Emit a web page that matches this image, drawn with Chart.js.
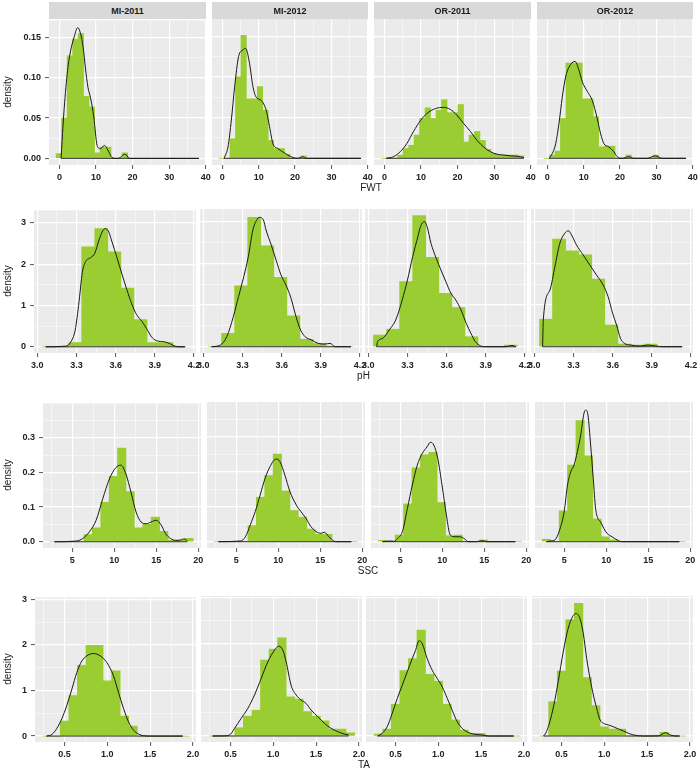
<!DOCTYPE html>
<html>
<head>
<meta charset="utf-8">
<script src="https://cdn.jsdelivr.net/npm/chart.js@4.4.0/dist/chart.umd.min.js"></script>
<style>
  html, body { margin: 0; padding: 0; background: #ffffff; }
  body { position: relative; width: 700px; height: 776px; overflow: hidden; font-family: "Liberation Sans", Arial, sans-serif; }
  canvas { position: absolute; z-index: 1; }
  .strip { position: absolute; z-index: 2; background: #D9D9D9; color: #1a1a1a; font-weight: bold; font-size: 9px; text-align: center; }
  .xtitle { position: absolute; z-index: 2; font-size: 10px; color: #222; transform: translate(-50%, -50%); white-space: nowrap; }
  .ytitle { position: absolute; z-index: 2; font-size: 10px; color: #222; transform: translate(-50%, -50%) rotate(-90deg); white-space: nowrap; }
</style>
</head>
<body>
<script>
// ---------------- DATA ----------------
const facets = ["MI-2011", "MI-2012", "OR-2011", "OR-2012"];
const variables = ["FWT", "pH", "SSC", "TA"];
const yTitle = "density";

// FWT
const fwtXLim = [-2.85, 40.05];
const fwtYLim = [-0.0082, 0.171];
const fwtXTicks = [0, 10, 20, 30, 40];
const fwtXTickLabels = ["0", "10", "20", "30", "40"];
const fwtXMinor = [5, 15, 25, 35];
const fwtYTicks = [0, 0.05, 0.10, 0.15];
const fwtYTickLabels = ["0.00", "0.05", "0.10", "0.15"];
const fwtYMinor = [0.025, 0.075, 0.125];
const fwtBins = [-0.15, 1.35, 2.85, 4.35, 5.85, 7.35, 8.85, 10.35, 11.85, 13.35, 14.85, 16.35, 17.85, 19.35, 20.85, 22.35, 23.85, 25.35, 26.85, 28.35, 29.85, 31.35, 32.85, 34.35, 35.85, 37.35];
const fwtHistMI2011 = [0.006, 0.05, 0.127, 0.148, 0.155, 0.077, 0.064, 0.007, 0.014, 0.014, 0, 0, 0.007, 0, 0, 0, 0, 0, 0, 0, 0, 0, 0, 0, 0, 0];
const fwtHistMI2012 = [0, 0, 0.024, 0.10, 0.151, 0.073, 0.073, 0.088, 0.059, 0.022, 0.012, 0.012, 0.005, 0, 0, 0.003, 0, 0, 0, 0, 0, 0, 0, 0, 0, 0];
const fwtHistOR2011 = [0, 0, 0, 0.004, 0.012, 0.016, 0.0285, 0.049, 0.062, 0.049, 0.059, 0.072, 0.056, 0.056, 0.066, 0.020, 0.0285, 0.033, 0.022, 0.011, 0.006, 0.004, 0.004, 0.004, 0.004, 0.003];
const fwtHistOR2012 = [0, 0.004, 0.009, 0.049, 0.117, 0.117, 0.117, 0.073, 0.073, 0.051, 0.014, 0.015, 0.015, 0, 0, 0.004, 0, 0, 0, 0, 0.004, 0, 0, 0, 0, 0];
const fwtDensRange = [0.46, 38.1];
const fwtDensMI2011 = [[0.46,0],[0.73,0.022],[1.19,0.055],[2.1,0.104],[3.0,0.132],[3.93,0.149],[5.0,0.162],[5.75,0.155],[6.5,0.137],[7.1,0.112],[7.8,0.088],[8.5,0.075],[9.4,0.051],[10.3,0.016],[11.2,0.012],[12.3,0.016],[13.5,0.008],[14.4,0.001],[15.8,0],[16.9,0.002],[17.6,0.005],[18.4,0.004],[19.0,0],[38.1,0]];
const fwtDensMI2012 = [[0.46,0],[1.55,0.014],[2.47,0.047],[3.38,0.088],[4.47,0.125],[5.66,0.133],[6.39,0.135],[7.49,0.116],[8.4,0.088],[9.3,0.075],[10.7,0.071],[12.05,0.059],[12.97,0.039],[13.9,0.018],[15.25,0.012],[16.6,0.008],[18.0,0.004],[19.4,0.001],[20.7,0],[22.1,0.002],[23.0,0],[38.1,0]];
const fwtDensOR2011 = [[0.46,0],[2.47,0.002],[4.3,0.008],[6.1,0.018],[7.95,0.033],[9.8,0.046],[11.6,0.055],[13.9,0.061],[16.2,0.0625],[18.0,0.060],[19.8,0.053],[21.6,0.043],[23.5,0.033],[25.3,0.022],[27.1,0.014],[29.0,0.008],[30.8,0.005],[32.6,0.004],[34.4,0.003],[36.3,0.0025],[38.1,0.001]];
const fwtDensOR2012 = [[0.46,0],[1.37,0.006],[2.29,0.018],[3.2,0.043],[4.1,0.075],[5.03,0.1],[5.95,0.112],[7.6,0.119],[8.7,0.108],[9.6,0.094],[11.0,0.082],[12.35,0.071],[13.7,0.049],[14.6,0.031],[15.55,0.018],[16.9,0.014],[18.3,0.008],[19.2,0.002],[20.6,0],[22.4,0.002],[23.8,0],[27.4,0],[29.7,0.003],[31.6,0],[38.1,0]];

// pH
const phXLim = [2.975, 4.215];
const phYLim = [-0.15, 3.30];
const phXTicks = [3.0, 3.3, 3.6, 3.9, 4.2];
const phXTickLabels = ["3.0", "3.3", "3.6", "3.9", "4.2"];
const phXMinor = [3.15, 3.45, 3.75, 4.05];
const phYTicks = [0, 1, 2, 3];
const phYTickLabels = ["0", "1", "2", "3"];
const phYMinor = [0.5, 1.5, 2.5];
const phBins = [3.09, 3.19, 3.29, 3.39, 3.49, 3.59, 3.69, 3.79, 3.89, 3.99, 4.09];
const phHistMI2011 = [0, 0, 0.104, 2.42, 2.86, 2.30, 1.42, 0.66, 0.104, 0.104, 0];
const phHistMI2012 = [0, 0.32, 1.46, 3.10, 2.42, 1.66, 0.74, 0.18, 0.08, 0, 0];
const phHistOR2011 = [0.28, 0.42, 1.56, 3.14, 2.14, 1.28, 0.94, 0.24, 0, 0, 0.04];
const phHistOR2012 = [0.66, 2.58, 2.30, 2.2, 1.62, 0.52, 0.064, 0.04, 0.064, 0, 0];
const phDensRange = [3.064, 4.13];
const phDensMI2011 = [[3.064,0],[3.219,0.016],[3.257,0.12],[3.29,0.40],[3.32,1.1],[3.345,1.8],[3.37,2.06],[3.41,2.16],[3.44,2.26],[3.47,2.56],[3.50,2.80],[3.52,2.86],[3.547,2.78],[3.57,2.56],[3.61,2.16],[3.648,1.76],[3.686,1.38],[3.723,1.04],[3.76,0.78],[3.80,0.62],[3.837,0.44],[3.875,0.24],[3.91,0.15],[3.975,0.12],[4.013,0.08],[4.05,0.02],[4.09,0],[4.13,0]];
const phDensMI2012 = [[3.064,0],[3.13,0.04],[3.18,0.24],[3.23,0.72],[3.27,1.2],[3.31,1.68],[3.345,2.16],[3.38,2.8],[3.41,3.04],[3.43,3.10],[3.46,3.04],[3.48,2.8],[3.52,2.44],[3.56,2.05],[3.595,1.72],[3.63,1.5],[3.67,1.18],[3.71,0.72],[3.745,0.4],[3.78,0.24],[3.83,0.16],[3.88,0.08],[3.93,0.064],[3.97,0.08],[4.01,0],[4.13,0]];
const phDensOR2011 = [[3.064,0],[3.071,0.12],[3.11,0.2],[3.16,0.4],[3.21,0.64],[3.26,1.12],[3.30,1.6],[3.34,2.16],[3.38,2.64],[3.40,2.88],[3.43,3.0],[3.45,2.88],[3.48,2.48],[3.52,2.12],[3.556,1.84],[3.594,1.56],[3.633,1.28],[3.67,1.12],[3.71,0.88],[3.75,0.56],[3.786,0.32],[3.82,0.12],[3.86,0.02],[3.90,0],[4.05,0],[4.10,0.03],[4.13,0]];
const phDensOR2012 = [[3.064,0],[3.069,0.64],[3.12,1.36],[3.158,1.92],[3.196,2.48],[3.234,2.72],[3.26,2.78],[3.285,2.68],[3.323,2.44],[3.374,2.2],[3.425,1.96],[3.476,1.72],[3.527,1.48],[3.565,1.2],[3.60,0.8],[3.63,0.52],[3.66,0.2],[3.69,0.08],[3.74,0.04],[3.81,0.016],[3.87,0.04],[3.93,0.016],[3.985,0],[4.13,0]];

// SSC
const sscXLim = [1.53, 20.33];
const sscYLim = [-0.018, 0.399];
const sscXTicks = [5, 10, 15, 20];
const sscXTickLabels = ["5", "10", "15", "20"];
const sscXMinor = [2.5, 7.5, 12.5, 17.5];
const sscYTicks = [0, 0.1, 0.2, 0.3];
const sscYTickLabels = ["0.0", "0.1", "0.2", "0.3"];
const sscYMinor = [0.05, 0.15, 0.25, 0.35];
const sscBins = [2.9, 3.9, 4.9, 5.9, 6.9, 7.9, 8.9, 9.9, 10.9, 11.9, 12.9, 13.9, 14.9, 15.9, 16.9, 17.9, 18.9];
const sscHistMI2011 = [0, 0, 0, 0, 0.021, 0.040, 0.114, 0.189, 0.27, 0.145, 0.04, 0.05, 0.071, 0.030, 0.005, 0.005, 0.010];
const sscHistMI2012 = [0, 0, 0, 0, 0.046, 0.127, 0.189, 0.25, 0.145, 0.089, 0.07, 0.036, 0.021, 0.021, 0, 0, 0];
const sscHistOR2011 = [0.004, 0, 0.019, 0.108, 0.211, 0.248, 0.255, 0.112, 0.017, 0.019, 0, 0, 0.005, 0, 0, 0, 0];
const sscHistOR2012 = [0.007, 0, 0.088, 0.219, 0.346, 0.245, 0.065, 0.014, 0.005, 0, 0, 0, 0, 0, 0, 0, 0];
const sscDensRange = [2.9, 18.7];
const sscDensMI2011 = [[2.9,0],[5.47,0.002],[6.26,0.0095],[7.06,0.029],[7.85,0.062],[8.64,0.124],[9.43,0.181],[10.2,0.214],[10.8,0.221],[11.4,0.195],[12.0,0.143],[12.6,0.086],[13.2,0.057],[13.8,0.052],[14.4,0.057],[15.0,0.062],[15.6,0.048],[16.1,0.024],[16.7,0.0095],[17.3,0.004],[17.9,0.005],[18.3,0.008],[18.7,0.003]];
const sscDensMI2012 = [[2.9,0],[5.5,0.002],[6.1,0.014],[6.68,0.048],[7.27,0.086],[7.85,0.133],[8.44,0.181],[9.02,0.214],[9.73,0.236],[10.2,0.229],[10.8,0.19],[11.4,0.143],[12.15,0.105],[12.7,0.086],[13.3,0.067],[13.9,0.043],[14.5,0.029],[15.1,0.024],[15.5,0.027],[16.05,0.014],[16.6,0.002],[17.0,0],[18.7,0]];
const sscDensOR2011 = [[2.9,0],[3.9,0.002],[4.3,0.001],[4.7,0.0095],[5.27,0.029],[5.86,0.095],[6.45,0.162],[7.04,0.219],[7.63,0.252],[8.2,0.271],[8.6,0.284],[9.0,0.276],[9.47,0.238],[9.98,0.162],[10.5,0.076],[10.96,0.019],[11.55,0.014],[12.1,0.014],[12.7,0.0076],[13.1,0],[14.1,0],[14.8,0.003],[15.3,0],[18.7,0]];
const sscDensOR2012 = [[2.9,0],[3.43,0.002],[3.9,0.005],[4.4,0.029],[5.0,0.086],[5.4,0.162],[5.79,0.2],[6.18,0.219],[6.57,0.257],[6.97,0.305],[7.36,0.367],[7.56,0.376],[7.83,0.362],[8.15,0.276],[8.46,0.181],[8.74,0.095],[9.0,0.067],[9.33,0.057],[9.72,0.038],[10.1,0.024],[10.7,0.014],[11.3,0.005],[11.9,0],[18.7,0]];

// TA
const taXLim = [0.155, 2.036];
const taYLim = [-0.13, 3.04];
const taXTicks = [0.5, 1.0, 1.5, 2.0];
const taXTickLabels = ["0.5", "1.0", "1.5", "2.0"];
const taXMinor = [0.25, 0.75, 1.25, 1.75];
const taYTicks = [0, 1, 2, 3];
const taYTickLabels = ["0", "1", "2", "3"];
const taYMinor = [0.5, 1.5, 2.5];
const taBins = [0.3, 0.4, 0.5, 0.6, 0.7, 0.8, 0.9, 1.0, 1.1, 1.2, 1.3, 1.4, 1.5, 1.6, 1.7, 1.8, 1.9];
const taHistMI2011 = [0, 0, 0.33, 0.89, 1.55, 1.99, 1.99, 1.21, 1.43, 0.44, 0.22, 0, 0, 0, 0, 0, 0];
const taHistMI2012 = [0, 0, 0, 0.18, 0.43, 0.56, 1.65, 1.89, 2.13, 0.85, 0.80, 0.53, 0.43, 0.33, 0.15, 0.15, 0.07];
const taHistOR2011 = [0.043, 0.15, 0.69, 1.42, 1.68, 2.30, 1.34, 1.19, 0.69, 0.35, 0.13, 0.058, 0.058, 0, 0, 0, 0];
const taHistOR2012 = [0, 0.745, 1.41, 2.52, 2.88, 1.27, 0.66, 0.2, 0.15, 0.15, 0, 0, 0, 0, 0.08, 0, 0];
const taDensRange = [0.29, 1.88];
const taDensMI2011 = [[0.29,0],[0.352,0.036],[0.41,0.166],[0.469,0.383],[0.527,0.672],[0.586,1.03],[0.644,1.395],[0.702,1.645],[0.76,1.757],[0.839,1.81],[0.917,1.757],[0.995,1.61],[1.072,1.32],[1.13,0.96],[1.19,0.6],[1.248,0.31],[1.306,0.13],[1.365,0.043],[1.423,0.007],[1.5,0],[1.88,0]];
const taDensMI2012 = [[0.29,0],[0.4,0.002],[0.488,0.022],[0.547,0.166],[0.624,0.383],[0.702,0.6],[0.78,0.89],[0.858,1.25],[0.936,1.61],[1.014,1.865],[1.064,1.95],[1.111,1.865],[1.15,1.61],[1.208,1.1],[1.267,0.89],[1.325,0.78],[1.383,0.708],[1.441,0.564],[1.52,0.42],[1.597,0.275],[1.675,0.166],[1.753,0.094],[1.83,0.043],[1.88,0.022]];
const taDensOR2011 = [[0.29,0],[0.344,0.058],[0.402,0.2],[0.461,0.49],[0.519,0.81],[0.578,1.10],[0.636,1.39],[0.695,1.68],[0.734,1.86],[0.773,2.07],[0.811,2.01],[0.87,1.68],[0.928,1.43],[0.987,1.25],[1.045,1.07],[1.104,0.82],[1.162,0.56],[1.221,0.31],[1.279,0.166],[1.357,0.072],[1.435,0.036],[1.513,0.022],[1.59,0],[1.88,0]];
const taDensOR2012 = [[0.29,0],[0.324,0.094],[0.363,0.31],[0.41,0.67],[0.461,1.18],[0.52,1.83],[0.578,2.34],[0.629,2.59],[0.669,2.66],[0.716,2.55],[0.755,2.22],[0.794,1.68],[0.833,1.25],[0.872,0.89],[0.911,0.6],[0.95,0.35],[0.99,0.275],[1.049,0.24],[1.107,0.2],[1.166,0.152],[1.225,0.108],[1.284,0.058],[1.343,0.022],[1.46,0],[1.636,0.005],[1.714,0.072],[1.773,0.022],[1.83,0],[1.88,0]];

// ---------------- ASSEMBLY ----------------
const rowsData = [
  { xLim: fwtXLim, yLim: fwtYLim, xTicks: fwtXTicks, xLabels: fwtXTickLabels, xMinor: fwtXMinor, yTicks: fwtYTicks, yLabels: fwtYTickLabels, yMinor: fwtYMinor, bins: fwtBins,
    hist: [fwtHistMI2011, fwtHistMI2012, fwtHistOR2011, fwtHistOR2012], dens: [fwtDensMI2011, fwtDensMI2012, fwtDensOR2011, fwtDensOR2012], densRange: fwtDensRange },
  { xLim: phXLim, yLim: phYLim, xTicks: phXTicks, xLabels: phXTickLabels, xMinor: phXMinor, yTicks: phYTicks, yLabels: phYTickLabels, yMinor: phYMinor, bins: phBins,
    hist: [phHistMI2011, phHistMI2012, phHistOR2011, phHistOR2012], dens: [phDensMI2011, phDensMI2012, phDensOR2011, phDensOR2012], densRange: phDensRange },
  { xLim: sscXLim, yLim: sscYLim, xTicks: sscXTicks, xLabels: sscXTickLabels, xMinor: sscXMinor, yTicks: sscYTicks, yLabels: sscYTickLabels, yMinor: sscYMinor, bins: sscBins,
    hist: [sscHistMI2011, sscHistMI2012, sscHistOR2011, sscHistOR2012], dens: [sscDensMI2011, sscDensMI2012, sscDensOR2011, sscDensOR2012], densRange: sscDensRange },
  { xLim: taXLim, yLim: taYLim, xTicks: taXTicks, xLabels: taXTickLabels, xMinor: taXMinor, yTicks: taYTicks, yLabels: taYTickLabels, yMinor: taYMinor, bins: taBins,
    hist: [taHistMI2011, taHistMI2012, taHistOR2011, taHistOR2012], dens: [taDensMI2011, taDensMI2012, taDensOR2011, taDensOR2012], densRange: taDensRange }
];

// Layout (page pixels)
const rowLayout = [
  { left: 49, right: 693, gap: 6.0, top: 19, bottom: 165, strip: true },
  { left: 34, right: 693, gap: 3.5, top: 209, bottom: 353, strip: false },
  { left: 43, right: 693, gap: 5.6, top: 402, bottom: 548, strip: false },
  { left: 35, right: 693, gap: 4.7, top: 596, bottom: 742, strip: false }
];
const PAD_L = 14, PAD_R = 14, PAD_T = 8, PAD_B = 2, X_AXIS_H = 24, Y_AXIS_W = 44;
const FONT = "'Liberation Sans', Arial, sans-serif";
const BAR_COLOR = "#9ACD32";
const PANEL_BG = "#EBEBEB";

Chart.defaults.font.family = FONT;

const panelBg = {
  id: 'panelBg',
  beforeDraw(chart) {
    const a = chart.chartArea, ctx = chart.ctx;
    ctx.save();
    ctx.fillStyle = PANEL_BG;
    ctx.fillRect(a.left, a.top, a.right - a.left, a.bottom - a.top);
    ctx.restore();
  }
};

function tickObjs(major, minor) {
  return major.map(v => ({ value: v, major: true }))
    .concat(minor.map(v => ({ value: v, major: false })))
    .sort((a, b) => a.value - b.value);
}
function labelOf(major, labels, v) {
  const i = major.findIndex(m => Math.abs(m - v) < 1e-9);
  return i >= 0 ? labels[i] : '';
}
const gridWidth = ctx => (ctx.tick && ctx.tick.major) ? 1.2 : 0.5;
const tickCol = ctx => (ctx.tick && ctx.tick.major) ? '#555555' : 'rgba(0,0,0,0)';

function addDiv(cls, text, styles) {
  const d = document.createElement('div');
  d.className = cls;
  d.textContent = text;
  Object.assign(d.style, styles);
  document.body.appendChild(d);
  return d;
}

rowsData.forEach((R, r) => {
  const L = rowLayout[r];
  const pw = (L.right - L.left - 3 * L.gap) / 4;
  const ph = L.bottom - L.top;
  for (let c = 0; c < 4; c++) {
    const pl = Math.round(L.left + c * (pw + L.gap));
    const pr = Math.round(L.left + c * (pw + L.gap) + pw);
    const yW = c === 0 ? Y_AXIS_W : 0;
    const cw = PAD_L + yW + (pr - pl) + PAD_R;
    const chh = PAD_T + ph + X_AXIS_H + PAD_B;
    const cv = document.createElement('canvas');
    cv.width = cw; cv.height = chh;
    cv.style.left = (pl - PAD_L - yW) + 'px';
    cv.style.top = (L.top - PAD_T) + 'px';
    cv.style.width = cw + 'px';
    cv.style.height = chh + 'px';
    document.body.appendChild(cv);

    const histPts = R.bins.map((b, i) => ({ x: b, y: R.hist[c][i] }));
    const densPts = R.dens[c].map(p => ({ x: p[0], y: p[1] }));
    const basePts = R.densRange.map(v => ({ x: v, y: 0 }));

    new Chart(cv, {
      type: 'bar',
      data: {
        datasets: [
          { type: 'line', data: densPts, borderColor: '#1a1a1a', borderWidth: 1, pointRadius: 0, fill: false, cubicInterpolationMode: 'monotone', order: 0 },
          { type: 'line', data: basePts, borderColor: '#333333', borderWidth: 1, pointRadius: 0, fill: false, order: 1 },
          { type: 'bar', data: histPts, backgroundColor: BAR_COLOR, borderWidth: 0, barPercentage: 1, categoryPercentage: 1, order: 2 }
        ]
      },
      options: {
        responsive: false,
        animation: false,
        events: [],
        layout: { padding: { left: PAD_L, right: PAD_R, top: PAD_T, bottom: PAD_B } },
        plugins: { legend: { display: false }, tooltip: { enabled: false }, title: { display: false } },
        scales: {
          x: {
            type: 'linear', min: R.xLim[0], max: R.xLim[1], bounds: 'data', offset: false,
            afterBuildTicks: ax => { ax.ticks = tickObjs(R.xTicks, R.xMinor); },
            afterFit: s => { s.height = X_AXIS_H; },
            border: { display: false },
            grid: { color: '#ffffff', lineWidth: gridWidth, drawTicks: true, tickLength: 4, tickColor: tickCol, tickWidth: 1, offset: false },
            ticks: {
              autoSkip: false, maxRotation: 0, minRotation: 0, padding: 3, color: '#222222',
              font: { family: FONT, size: 9, weight: 'bold' },
              callback: v => labelOf(R.xTicks, R.xLabels, v)
            }
          },
          y: {
            type: 'linear', min: R.yLim[0], max: R.yLim[1], bounds: 'data', beginAtZero: false,
            afterBuildTicks: ax => { ax.ticks = tickObjs(R.yTicks, R.yMinor); },
            afterFit: s => { s.width = yW; },
            border: { display: false },
            grid: { color: '#ffffff', lineWidth: gridWidth, drawTicks: c === 0, tickLength: 4, tickColor: tickCol, tickWidth: 1 },
            ticks: {
              display: c === 0, autoSkip: false, padding: 4, color: '#222222',
              font: { family: FONT, size: 9, weight: 'bold' },
              callback: v => labelOf(R.yTicks, R.yLabels, v)
            }
          }
        }
      },
      plugins: [panelBg]
    });

    if (L.strip) {
      addDiv('strip', facets[c], { left: pl + 'px', top: '2px', width: (pr - pl) + 'px', height: '17px', lineHeight: '18px' });
    }
  }
  addDiv('xtitle', variables[r], { left: ((L.left + L.right) / 2) + 'px', top: (L.bottom + 22) + 'px' });
  addDiv('ytitle', yTitle, { left: '7px', top: ((L.top + L.bottom) / 2) + 'px' });
});
</script>
</body>
</html>
